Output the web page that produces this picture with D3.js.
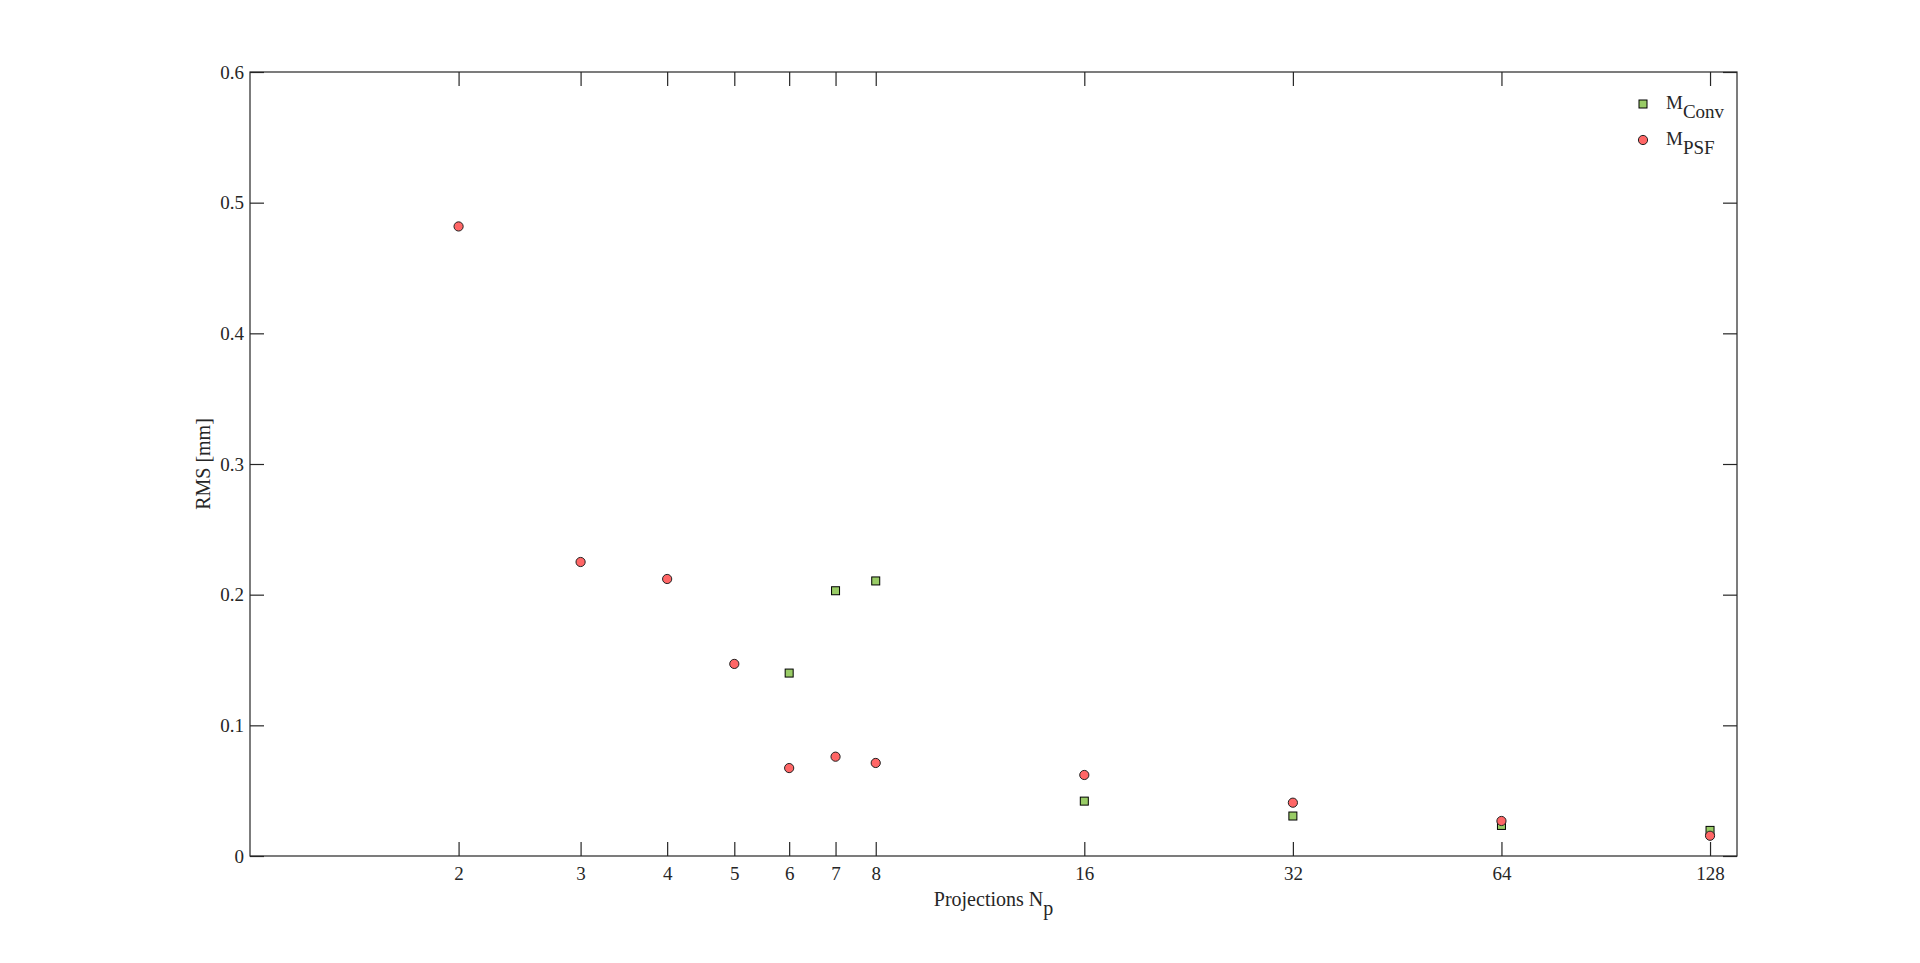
<!DOCTYPE html>
<html lang="en">

<head>
  <meta charset="UTF-8" />
  <title>RMS vs Projections</title>
  <script src="https://d3js.org/d3.v7.min.js"></script>
  <style>
    body {
      margin: 0;
      background: #fff;
    }

    svg text {
      font-family: "Liberation Serif", serif;
      fill: #262626;
    }

    .tick text {
      font-size: 19px;
    }

    .tick line,
    .frame {
      stroke: #262626;
      stroke-width: 1.2px;
    }
  </style>
</head>

<body>
  <div id="chart"></div>
  <script>
    // x tick labels (number of projections, log2 axis)
    const xTicks = [2, 3, 4, 5, 6, 7, 8, 16, 32, 64, 128];
    const yTicks = [0, 0.1, 0.2, 0.3, 0.4, 0.5, 0.6];

    // M_Conv series
    const convProj = [6, 7, 8, 16, 32, 64, 128];
    const convRms = [0.140, 0.203, 0.2105, 0.042, 0.0306, 0.0234, 0.0196];

    // M_PSF series
    const psfProj = [2, 3, 4, 5, 6, 7, 8, 16, 32, 64, 128];
    const psfRms = [0.4818, 0.225, 0.212, 0.147, 0.0673, 0.076, 0.0712, 0.062, 0.0408, 0.0268, 0.0155];

    const width = 1920, height = 963;
    const margin = { top: 72, right: 183, bottom: 107, left: 250 };
    const tickLen = 14;

    const svg = d3.select("#chart")
      .append("svg")
      .attr("width", width)
      .attr("height", height);

    const x = d3.scaleLog()
      .base(2)
      .domain([1, 140])
      .range([margin.left, width - margin.right]);

    const y = d3.scaleLinear()
      .domain([0, 0.6])
      .range([height - margin.bottom, margin.top]);

    const yFmt = d => d === 0 ? "0" : d3.format(".1f")(d);

    // bottom axis, ticks pointing inward
    svg.append("g")
      .attr("transform", `translate(0,${height - margin.bottom})`)
      .call(d3.axisBottom(x).tickValues(xTicks).tickFormat(d3.format("d"))
        .tickSizeInner(-tickLen).tickSizeOuter(0).tickPadding(11))
      .call(g => g.select(".domain").remove());

    // top axis, marks only
    svg.append("g")
      .attr("transform", `translate(0,${margin.top})`)
      .call(d3.axisTop(x).tickValues(xTicks).tickFormat("")
        .tickSizeInner(-tickLen).tickSizeOuter(0))
      .call(g => g.select(".domain").remove());

    // left axis
    svg.append("g")
      .attr("transform", `translate(${margin.left},0)`)
      .call(d3.axisLeft(y).tickValues(yTicks).tickFormat(yFmt)
        .tickSizeInner(-tickLen).tickSizeOuter(0).tickPadding(6))
      .call(g => g.select(".domain").remove());

    // right axis, marks only
    svg.append("g")
      .attr("transform", `translate(${width - margin.right},0)`)
      .call(d3.axisRight(y).tickValues(yTicks).tickFormat("")
        .tickSizeInner(-tickLen).tickSizeOuter(0))
      .call(g => g.select(".domain").remove());

    svg.append("rect")
      .attr("class", "frame")
      .attr("x", margin.left)
      .attr("y", margin.top)
      .attr("width", width - margin.left - margin.right)
      .attr("height", height - margin.top - margin.bottom)
      .attr("fill", "none");

    // axis labels
    const xLabel = svg.append("text")
      .attr("x", (margin.left + width - margin.right) / 2)
      .attr("y", 906)
      .attr("text-anchor", "middle")
      .attr("font-size", "20px");
    xLabel.append("tspan").text("Projections N");
    xLabel.append("tspan").attr("dy", 9).text("p");

    svg.append("text")
      .attr("transform", `translate(210,${(margin.top + height - margin.bottom) / 2}) rotate(-90)`)
      .attr("text-anchor", "middle")
      .attr("font-size", "20px")
      .text("RMS [mm]");

    const convColor = "#99cc66", psfColor = "#ff6666";

    svg.append("g")
      .selectAll("rect")
      .data(convProj.map((p, i) => [p, convRms[i]]))
      .join("rect")
      .attr("x", d => x(d[0]) - 4)
      .attr("y", d => y(d[1]) - 4)
      .attr("width", 8)
      .attr("height", 8)
      .attr("fill", convColor)
      .attr("stroke", "#000")
      .attr("stroke-width", 1);

    svg.append("g")
      .selectAll("circle")
      .data(psfProj.map((p, i) => [p, psfRms[i]]))
      .join("circle")
      .attr("cx", d => x(d[0]))
      .attr("cy", d => y(d[1]))
      .attr("r", 4.6)
      .attr("fill", psfColor)
      .attr("stroke", "#222")
      .attr("stroke-width", 1);

    // legend
    const legend = svg.append("g");
    legend.append("rect")
      .attr("x", 1639).attr("y", 100).attr("width", 8).attr("height", 8)
      .attr("fill", convColor).attr("stroke", "#000");
    legend.append("circle")
      .attr("cx", 1643).attr("cy", 140).attr("r", 4.6)
      .attr("fill", psfColor).attr("stroke", "#222");

    [["Conv", 109], ["PSF", 145]].forEach(([sub, yy]) => {
      const t = legend.append("text")
        .attr("x", 1666).attr("y", yy)
        .attr("font-size", "19px");
      t.append("tspan").text("M");
      t.append("tspan").attr("dy", 9).text(sub);
    });
  </script>
</body>

</html>
